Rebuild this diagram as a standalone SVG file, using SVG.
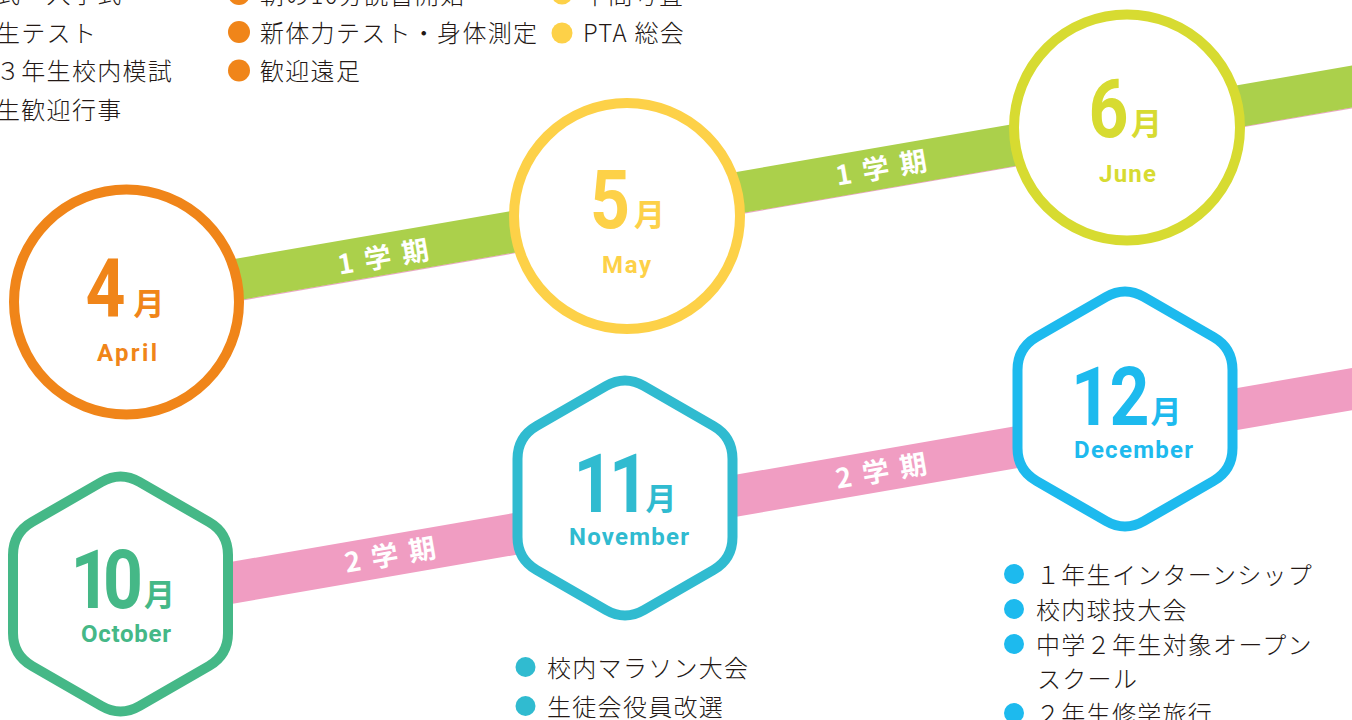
<svg xmlns="http://www.w3.org/2000/svg" width="1352" height="720" viewBox="0 0 1352 720">
<style>
.band{fill:none;stroke-width:41.5;stroke-linecap:butt}
.g1{stroke:#ABD04B}
.g2{stroke:#F09DC2}
.edge{fill:none;stroke:#EBA6C6;stroke-width:1.2}
.blabel{font-family:"Noto Sans CJK JP","Noto Sans",sans-serif;font-weight:700;font-size:27px;fill:#fff}
.ring{fill:#fff;stroke-width:10}
.num{font-family:Roboto,"Liberation Sans",sans-serif;font-weight:700;font-size:82px;text-anchor:middle}
.tsuki{font-family:"Noto Sans CJK JP",sans-serif;font-weight:700;font-size:31px;text-anchor:middle}
.en{font-family:Roboto,"Liberation Sans",sans-serif;font-weight:700;font-size:24px;text-anchor:middle}
.item{font-family:"Noto Sans CJK JP","Noto Sans",sans-serif;font-weight:300;font-size:24px;letter-spacing:1.3px;fill:#231815}
.or{fill:#F08519}.ye{fill:#FDD148}.yg{fill:#D7DB31}.gr{fill:#45B887}.cy{fill:#30BBD0}.bl{fill:#1DBAEE}
</style>
<defs>
<path id="hex" d="M19.05,-112 L88.45,-72 Q107.5,-61 107.5,-39 L107.5,39 Q107.5,61 88.45,72 L19.05,112 Q0,123 -19.05,112 L-88.45,72 Q-107.5,61 -107.5,39 L-107.5,-39 Q-107.5,-61 -88.45,-72 L-19.05,-112 Q0,-123 19.05,-112 Z"/>
</defs>

<g id="connectors">
  <line class="edge" x1="127" y1="319.9" x2="1420" y2="96"/>
  <line class="band g1" x1="126.5" y1="298.6" x2="627" y2="212"/>
  <line class="band g1" x1="627" y1="212" x2="1127" y2="125.5"/>
  <line class="band g1" x1="1127" y1="125.5" x2="1420" y2="74.7"/>
  <line class="band g2" x1="120.5" y1="602.1" x2="625" y2="514.9"/>
  <line class="band g2" x1="625" y1="514.9" x2="1125" y2="428.4"/>
  <line class="band g2" x1="1125" y1="428.4" x2="1420" y2="377.3"/>
  <g transform="translate(383,257) rotate(-9.82)"><text class="blabel" x="-46" y="10" textLength="92">1学期</text></g>
  <g transform="translate(881,168) rotate(-9.82)"><text class="blabel" x="-46" y="10" textLength="92">1学期</text></g>
  <g transform="translate(390,555) rotate(-9.82)"><text class="blabel" x="-46" y="10" textLength="92">2学期</text></g>
  <g transform="translate(881,471) rotate(-9.82)"><text class="blabel" x="-46" y="10" textLength="92">2学期</text></g>
</g>

<g id="apr">
  <circle class="ring" cx="126.5" cy="302" r="112.5" stroke="#F08519"/>
  <text class="num or" transform="translate(105.5,317) scale(.85,1)">4</text>
  <text class="tsuki or" x="149" y="315">月</text>
  <text class="en or" x="127" y="361" textLength="60">April</text>
</g>
<g id="may">
  <circle class="ring" cx="627" cy="216" r="113" stroke="#FDD148"/>
  <text class="num ye" transform="translate(610,228) scale(.85,1)">5</text>
  <text class="tsuki ye" x="649.5" y="226">月</text>
  <text class="en ye" x="626.5" y="273" textLength="49">May</text>
</g>
<g id="jun">
  <circle class="ring" cx="1127" cy="127.5" r="113" stroke="#D7DB31"/>
  <text class="num yg" transform="translate(1108.5,137) scale(.85,1)">6</text>
  <text class="tsuki yg" x="1146.5" y="135">月</text>
  <text class="en yg" x="1127.5" y="182" textLength="57">June</text>
</g>
<g id="oct">
  <use href="#hex" transform="translate(120.5,594)" fill="#fff" stroke="#45B887" stroke-width="10"/>
  <text class="num gr" transform="translate(90.5,608) scale(.85,1)">1</text>
  <text class="num gr" transform="translate(123,608) scale(.85,1)">0</text>
  <text class="tsuki gr" x="159.5" y="606">月</text>
  <text class="en gr" x="126" y="642" textLength="90">October</text>
</g>
<g id="nov">
  <use href="#hex" transform="translate(625,498)" fill="#fff" stroke="#30BBD0" stroke-width="10"/>
  <text class="num cy" transform="translate(593.5,512) scale(.85,1)">1</text>
  <text class="num cy" transform="translate(629,512) scale(.85,1)">1</text>
  <text class="tsuki cy" x="661" y="510">月</text>
  <text class="en cy" x="629" y="545" textLength="120">November</text>
</g>
<g id="dec">
  <use href="#hex" transform="translate(1125,409)" fill="#fff" stroke="#1DBAEE" stroke-width="10"/>
  <text class="num bl" transform="translate(1091,425) scale(.85,1)">1</text>
  <text class="num bl" transform="translate(1129.5,425) scale(.85,1)">2</text>
  <text class="tsuki bl" x="1166" y="423">月</text>
  <text class="en bl" x="1133.5" y="458" textLength="119">December</text>
</g>

<g id="list-mar">
  <text class="item" x="-4" y="3">式・入学式</text>
  <text class="item" x="-4" y="41.5">生テスト</text>
  <text class="item" x="-4" y="80">３年生校内模試</text>
  <text class="item" x="-4" y="118.5">生歓迎行事</text>
</g>
<g id="list-apr">
  <circle class="or" cx="239" cy="-6" r="11"/>
  <circle class="or" cx="239" cy="32" r="11"/>
  <circle class="or" cx="239" cy="70.5" r="11"/>
  <text class="item" x="260" y="3.5">朝の10分読書開始</text>
  <text class="item" x="260" y="42">新体力テスト・身体測定</text>
  <text class="item" x="260" y="80">歓迎遠足</text>
</g>
<g id="list-may">
  <circle class="ye" cx="562" cy="-6" r="10.5"/>
  <circle class="ye" cx="562" cy="33" r="10.5"/>
  <text class="item" x="583" y="3.5">中間考査</text>
  <text class="item" x="583" y="42">PTA 総会</text>
</g>
<g id="list-nov">
  <circle class="cy" cx="525.5" cy="667" r="10"/>
  <circle class="cy" cx="525.5" cy="706" r="10"/>
  <text class="item" x="547" y="677">校内マラソン大会</text>
  <text class="item" x="547" y="715.5">生徒会役員改選</text>
</g>
<g id="list-dec">
  <circle class="bl" cx="1014" cy="574" r="10"/>
  <circle class="bl" cx="1014" cy="609" r="10"/>
  <circle class="bl" cx="1014" cy="644" r="10"/>
  <circle class="bl" cx="1014" cy="713" r="10"/>
  <text class="item" x="1036" y="583.5">１年生インターンシップ</text>
  <text class="item" x="1036" y="618.5">校内球技大会</text>
  <text class="item" x="1036" y="653.5">中学２年生対象オープン</text>
  <text class="item" x="1037" y="688">スクール</text>
  <text class="item" x="1036" y="722.5">２年生修学旅行</text>
</g>
</svg>
